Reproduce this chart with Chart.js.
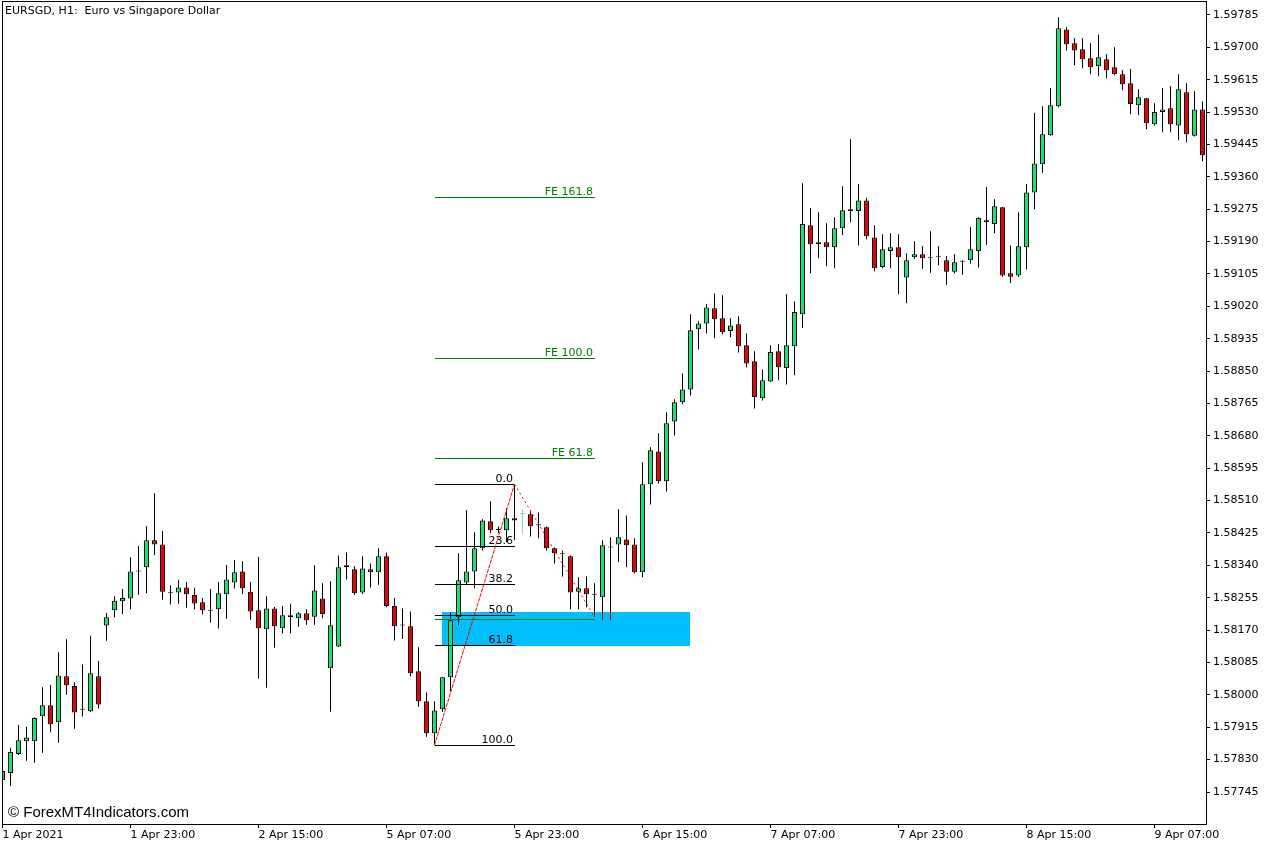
<!DOCTYPE html>
<html>
<head>
<meta charset="utf-8">
<script src="https://cdn.jsdelivr.net/npm/chart.js@4.4.1/dist/chart.umd.min.js"></script>
<style>
html, body { margin: 0; padding: 0; background: #fff; }
canvas { display: block; }
</style>
</head>
<body>
<canvas id="chart" width="1276" height="848"></canvas>
<script>
// EURSGD H1 candles, bar 0 = 1 Apr 2021
const opens = [
  1.57776, 1.57795, 1.57845, 1.57878, 1.57878, 1.57944, 1.57973, 1.57928, 1.58049, 1.58023,
  1.57961, 1.57957, 1.58049, 1.58182, 1.58222, 1.58246, 1.58253, 1.58324, 1.58335, 1.58406,
  1.58395, 1.58267, 1.58269, 1.58282, 1.58262, 1.58243, 1.58221, 1.58225, 1.58264, 1.58295,
  1.58324, 1.58271, 1.58222, 1.58172, 1.58227, 1.58175, 1.58204, 1.58201, 1.58214, 1.58205,
  1.58253, 1.58070, 1.58127, 1.58340, 1.58330, 1.58269, 1.58330, 1.58322, 1.58364, 1.58233,
  1.58182, 1.58180, 1.58062, 1.57983, 1.57899, 1.57962, 1.58046, 1.58204, 1.58295, 1.58324,
  1.58385, 1.58456, 1.58433, 1.58432, 1.58464, 1.58475, 1.58474, 1.58445, 1.58440, 1.58385,
  1.58369, 1.58364, 1.58271, 1.58280, 1.58263, 1.58256, 1.58387, 1.58395, 1.58408, 1.58395,
  1.58322, 1.58553, 1.58639, 1.58561, 1.58718, 1.58768, 1.58802, 1.58960, 1.58975, 1.59015,
  1.58989, 1.58955, 1.58973, 1.58918, 1.58876, 1.58779, 1.58823, 1.58902, 1.58858, 1.58915,
  1.58999, 1.59233, 1.59183, 1.59188, 1.59175, 1.59225, 1.59275, 1.59270, 1.59298, 1.59201,
  1.59123, 1.59165, 1.59175, 1.59096, 1.59149, 1.59157, 1.59146, 1.59150, 1.59141, 1.59111,
  1.59137, 1.59141, 1.59165, 1.59246, 1.59236, 1.59280, 1.59107, 1.59101, 1.59175, 1.59319,
  1.59393, 1.59469, 1.59545, 1.59747, 1.59711, 1.59695, 1.59671, 1.59650, 1.59669, 1.59648,
  1.59629, 1.59606, 1.59548, 1.59566, 1.59498, 1.59530, 1.59540, 1.59495, 1.59582, 1.59468,
  1.59537
];
const highs = [
  1.57816, 1.57861, 1.57921, 1.57916, 1.57941, 1.58020, 1.58026, 1.58112, 1.58146, 1.58033,
  1.58080, 1.58155, 1.58089, 1.58215, 1.58259, 1.58278, 1.58361, 1.58391, 1.58443, 1.58529,
  1.58430, 1.58288, 1.58302, 1.58296, 1.58281, 1.58254, 1.58278, 1.58296, 1.58341, 1.58354,
  1.58351, 1.58296, 1.58362, 1.58259, 1.58231, 1.58233, 1.58239, 1.58217, 1.58225, 1.58340,
  1.58293, 1.58298, 1.58366, 1.58374, 1.58338, 1.58364, 1.58345, 1.58385, 1.58374, 1.58254,
  1.58227, 1.58219, 1.58125, 1.58006, 1.57983, 1.58046, 1.58217, 1.58372, 1.58485, 1.58427,
  1.58461, 1.58508, 1.58442, 1.58490, 1.58553, 1.58487, 1.58482, 1.58479, 1.58442, 1.58387,
  1.58379, 1.58366, 1.58309, 1.58311, 1.58293, 1.58406, 1.58414, 1.58487, 1.58471, 1.58411,
  1.58611, 1.58650, 1.58687, 1.58742, 1.58776, 1.58844, 1.58999, 1.58981, 1.59026, 1.59054,
  1.59049, 1.58989, 1.58994, 1.58949, 1.58902, 1.58854, 1.58918, 1.58921, 1.59052, 1.59033,
  1.59343, 1.59278, 1.59267, 1.59238, 1.59254, 1.59335, 1.59459, 1.59341, 1.59305, 1.59233,
  1.59209, 1.59212, 1.59209, 1.59159, 1.59191, 1.59178, 1.59217, 1.59178, 1.59152, 1.59157,
  1.59141, 1.59228, 1.59254, 1.59333, 1.59301, 1.59281, 1.59180, 1.59267, 1.59341, 1.59528,
  1.59545, 1.59593, 1.59779, 1.59753, 1.59724, 1.59724, 1.59711, 1.59734, 1.59682, 1.59700,
  1.59640, 1.59643, 1.59590, 1.59567, 1.59553, 1.59593, 1.59598, 1.59629, 1.59606, 1.59585,
  1.59558
];
const lows = [
  1.57771, 1.57761, 1.57842, 1.57827, 1.57822, 1.57848, 1.57902, 1.57874, 1.58000, 1.57911,
  1.57943, 1.57955, 1.57964, 1.58142, 1.58203, 1.58212, 1.58224, 1.58263, 1.58267, 1.58367,
  1.58250, 1.58237, 1.58239, 1.58229, 1.58224, 1.58211, 1.58190, 1.58174, 1.58200, 1.58279,
  1.58265, 1.58197, 1.58043, 1.58019, 1.58124, 1.58161, 1.58161, 1.58179, 1.58184, 1.58184,
  1.58201, 1.57956, 1.58126, 1.58303, 1.58262, 1.58264, 1.58282, 1.58289, 1.58230, 1.58143,
  1.58147, 1.58048, 1.57969, 1.57890, 1.57868, 1.57956, 1.58009, 1.58183, 1.58288, 1.58280,
  1.58379, 1.58424, 1.58424, 1.58401, 1.58406, 1.58422, 1.58416, 1.58411, 1.58379, 1.58345,
  1.58311, 1.58225, 1.58225, 1.58230, 1.58205, 1.58196, 1.58196, 1.58349, 1.58335, 1.58319,
  1.58309, 1.58500, 1.58555, 1.58534, 1.58681, 1.58763, 1.58786, 1.58907, 1.58949, 1.58936,
  1.58947, 1.58939, 1.58899, 1.58860, 1.58752, 1.58773, 1.58822, 1.58826, 1.58815, 1.58839,
  1.58963, 1.59107, 1.59146, 1.59125, 1.59120, 1.59207, 1.59241, 1.59180, 1.59196, 1.59112,
  1.59120, 1.59120, 1.59052, 1.59028, 1.59144, 1.59119, 1.59108, 1.59128, 1.59077, 1.59106,
  1.59103, 1.59132, 1.59122, 1.59182, 1.59212, 1.59098, 1.59081, 1.59097, 1.59117, 1.59275,
  1.59371, 1.59468, 1.59543, 1.59692, 1.59653, 1.59645, 1.59629, 1.59624, 1.59619, 1.59627,
  1.59587, 1.59524, 1.59522, 1.59485, 1.59495, 1.59477, 1.59477, 1.59456, 1.59451, 1.59466,
  1.59401
];
const closes = [
  1.57800, 1.57850, 1.57881, 1.57888, 1.57939, 1.57973, 1.57923, 1.58051, 1.58025, 1.57954,
  1.57961, 1.58057, 1.57975, 1.58204, 1.58247, 1.58254, 1.58324, 1.58324, 1.58406, 1.58395,
  1.58271, 1.58267, 1.58282, 1.58264, 1.58240, 1.58222, 1.58221, 1.58267, 1.58303, 1.58322,
  1.58280, 1.58219, 1.58175, 1.58227, 1.58180, 1.58209, 1.58209, 1.58214, 1.58196, 1.58274,
  1.58212, 1.58183, 1.58335, 1.58335, 1.58267, 1.58332, 1.58322, 1.58364, 1.58233, 1.58180,
  1.58182, 1.58057, 1.57983, 1.57899, 1.57959, 1.58046, 1.58196, 1.58301, 1.58324, 1.58385,
  1.58458, 1.58432, 1.58433, 1.58464, 1.58458, 1.58475, 1.58443, 1.58445, 1.58385, 1.58372,
  1.58369, 1.58269, 1.58280, 1.58264, 1.58263, 1.58393, 1.58387, 1.58414, 1.58393, 1.58322,
  1.58553, 1.58642, 1.58561, 1.58713, 1.58768, 1.58802, 1.58957, 1.58975, 1.59017, 1.58986,
  1.58952, 1.58970, 1.58915, 1.58870, 1.58782, 1.58826, 1.58900, 1.58860, 1.58918, 1.59005,
  1.59236, 1.59183, 1.59188, 1.59175, 1.59225, 1.59272, 1.59270, 1.59298, 1.59204, 1.59120,
  1.59170, 1.59175, 1.59149, 1.59141, 1.59157, 1.59146, 1.59146, 1.59150, 1.59111, 1.59136,
  1.59137, 1.59170, 1.59252, 1.59241, 1.59283, 1.59101, 1.59098, 1.59178, 1.59319, 1.59395,
  1.59472, 1.59548, 1.59750, 1.59708, 1.59692, 1.59669, 1.59648, 1.59674, 1.59640, 1.59629,
  1.59603, 1.59551, 1.59569, 1.59501, 1.59530, 1.59537, 1.59498, 1.59590, 1.59472, 1.59537,
  1.59417
];

const xTickBars = [0, 16, 32, 48, 64, 80, 96, 112, 128, 144];
const xTickLabels = ['1 Apr 2021', '1 Apr 23:00', '2 Apr 15:00', '5 Apr 07:00', '5 Apr 23:00',
  '6 Apr 15:00', '7 Apr 07:00', '7 Apr 23:00', '8 Apr 15:00', '9 Apr 07:00'];
const yTickValues = [
  1.57745, 1.57830, 1.57915, 1.58000, 1.58085, 1.58170, 1.58255, 1.58340, 1.58425,
  1.58510, 1.58595, 1.58680, 1.58765, 1.58850, 1.58935, 1.59020, 1.59105, 1.59190,
  1.59275, 1.59360, 1.59445, 1.59530, 1.59615, 1.59700, 1.59785
];

// fibonacci retracement (bar 54 low -> bar 64 high)
const fibNames = ['0.0', '23.6', '38.2', '50.0', '61.8', '100.0'];
const fibPrices = [1.58553, 1.58390, 1.58290, 1.58209, 1.58130, 1.57868];
const fibBars = [54, 64];
const swingBars = [54, 64, 74];
const swingPrices = [1.57868, 1.58553, 1.58205];

// fibonacci expansion
const feNames = ['', 'FE 61.8', 'FE 100.0', 'FE 161.8'];
const fePrices = [1.58198, 1.58622, 1.58885, 1.59307];
const feBars = [54, 74];

// blue zone
const zoneBars = [54.94, 85.94];
const zonePrices = [1.58218, 1.58127];

const GREEN = '#00ec7a';
const RED = '#ee0000';
const FONT = '"DejaVu Sans", sans-serif';

const bodyColors = opens.map((o, i) => closes[i] > o ? GREEN : (closes[i] < o ? RED : '#000'));
const edgeColors = opens.map((o, i) => i === 65 ? '#7fd9a8' : '#000');

const wickData = highs.map((h, i) => ({ x: i, y: [lows[i], h] }));
const bodyData = opens.map((o, i) => ({ x: i, y: [o, closes[i]] }));

const crisp = v => Math.round(v) + 0.5;

const overlays = {
    id: 'overlays',
    beforeDatasetsDraw(chart) {
        const { ctx, scales: { x, y } } = chart;
        const x1 = Math.round(x.getPixelForValue(zoneBars[0]));
        const x2 = Math.round(x.getPixelForValue(zoneBars[1]));
        const y1 = Math.round(y.getPixelForValue(zonePrices[0]));
        const y2 = Math.round(y.getPixelForValue(zonePrices[1]));
        ctx.save();
        ctx.fillStyle = '#00bfff';
        ctx.fillRect(x1, y1, x2 - x1, y2 - y1);
        ctx.restore();
    },
    afterDatasetsDraw(chart) {
        const { ctx, scales: { x, y } } = chart;
        ctx.save();
        ctx.lineWidth = 1;
        ctx.font = '11px ' + FONT;
        ctx.textAlign = 'right';
        ctx.textBaseline = 'alphabetic';

        // retracement levels
        const fx1 = Math.round(x.getPixelForValue(fibBars[0]));
        const fx2 = Math.round(x.getPixelForValue(fibBars[1]));
        fibPrices.forEach((p, i) => {
            const py = crisp(y.getPixelForValue(p));
            ctx.strokeStyle = '#000';
            ctx.beginPath();
            ctx.moveTo(fx1, py);
            ctx.lineTo(fx2, py);
            ctx.stroke();
            ctx.fillStyle = '#000';
            ctx.fillText(fibNames[i], fx2 - 2, py - 3);
        });

        // expansion levels
        const ex1 = Math.round(x.getPixelForValue(feBars[0]));
        const ex2 = Math.round(x.getPixelForValue(feBars[1]));
        fePrices.forEach((p, i) => {
            const py = crisp(y.getPixelForValue(p));
            ctx.strokeStyle = '#008000';
            ctx.beginPath();
            ctx.moveTo(ex1, py);
            ctx.lineTo(ex2, py);
            ctx.stroke();
            if (feNames[i]) {
                ctx.fillStyle = '#008000';
                ctx.fillText(feNames[i], ex2 - 2, py - 3);
            }
        });

        // swing lines
        ctx.strokeStyle = '#ff0000';
        ctx.setLineDash([4, 1]);
        ctx.beginPath();
        ctx.moveTo(x.getPixelForValue(swingBars[0]), y.getPixelForValue(swingPrices[0]));
        ctx.lineTo(x.getPixelForValue(swingBars[1]), y.getPixelForValue(swingPrices[1]));
        ctx.stroke();
        ctx.setLineDash([2, 3]);
        ctx.beginPath();
        ctx.moveTo(x.getPixelForValue(swingBars[1]), y.getPixelForValue(swingPrices[1]));
        ctx.lineTo(x.getPixelForValue(swingBars[2]), y.getPixelForValue(swingPrices[2]));
        ctx.stroke();
        ctx.restore();
    },
    afterDraw(chart) {
        const { ctx, chartArea } = chart;
        ctx.save();
        ctx.strokeStyle = '#000';
        ctx.lineWidth = 1;
        ctx.strokeRect(chartArea.left - 0.5, chartArea.top - 0.5,
            chartArea.right - chartArea.left + 1, chartArea.bottom - chartArea.top + 1);

        ctx.fillStyle = '#000';
        ctx.textAlign = 'left';
        ctx.textBaseline = 'middle';
        ctx.font = '11px ' + FONT;
        ctx.fillText('EURSGD, H1:  Euro vs Singapore Dollar', 5, 11);
        ctx.font = '15px "Liberation Sans", Arial, sans-serif';
        ctx.fillText('\u00A9 ForexMT4Indicators.com', 8, 813);
        ctx.restore();
    }
};

Chart.defaults.font.family = FONT;
Chart.defaults.font.size = 11;
Chart.defaults.color = '#000';

const noPad = (scale) => {
    scale.paddingTop = 0;
    scale.paddingBottom = 0;
    scale.paddingLeft = 0;
    scale.paddingRight = 0;
};

const ctx = document.getElementById('chart').getContext('2d');
const chart = new Chart(ctx, {
    type: 'bar',
    data: {
        datasets: [
            {
                label: 'wicks',
                data: wickData,
                backgroundColor: edgeColors,
                borderWidth: 0,
                barThickness: 1,
                grouped: false,
                inflateAmount: 0,
                order: 2,
            },
            {
                label: 'bodies',
                data: bodyData,
                backgroundColor: bodyColors,
                borderColor: edgeColors,
                borderWidth: 1,
                borderSkipped: false,
                barThickness: 5,
                minBarLength: 1,
                grouped: false,
                inflateAmount: 0,
                order: 1,
            },
        ],
    },
    options: {
        responsive: false,
        animation: false,
        devicePixelRatio: 1,
        layout: { padding: { left: 3, top: 2, right: 0, bottom: 0 } },
        plugins: {
            legend: { display: false },
            tooltip: { enabled: false },
        },
        scales: {
            x: {
                type: 'linear',
                min: 0.0625,
                max: 150.4375,
                offset: false,
                bounds: 'data',
                grid: { drawOnChartArea: false, drawTicks: true, tickLength: 4, color: '#000', offset: false },
                border: { display: false },
                ticks: {
                    autoSkip: false,
                    maxRotation: 0,
                    align: 'start',
                    padding: 1,
                    callback: (v) => {
                        const k = xTickBars.indexOf(v);
                        return k >= 0 ? xTickLabels[k] : '';
                    },
                },
                afterBuildTicks: (scale) => {
                    scale.ticks = xTickBars.map(v => ({ value: v }));
                },
                afterFit: (scale) => { scale.height = 24; noPad(scale); },
            },
            y: {
                type: 'linear',
                position: 'right',
                min: 1.57661,
                max: 1.59819,
                bounds: 'data',
                beginAtZero: false,
                grid: { drawOnChartArea: false, drawTicks: true, tickLength: 4, color: '#000' },
                border: { display: false },
                ticks: {
                    autoSkip: false,
                    padding: 3,
                    callback: (v) => Number(v).toFixed(5),
                },
                afterBuildTicks: (scale) => {
                    scale.ticks = yTickValues.map(v => ({ value: v }));
                },
                afterFit: (scale) => { scale.width = 70; noPad(scale); },
            },
        },
    },
    plugins: [overlays],
});
</script>
</body>
</html>
